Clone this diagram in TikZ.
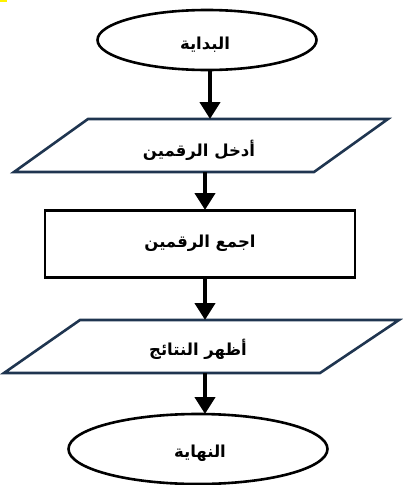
\documentclass[tikz,border=0pt]{standalone}
\usepackage{fontspec}
\usetikzlibrary{shapes.geometric,arrows.meta}
\TeXXeTstate=1
\newfontfamily\arabicfont[Script=Arabic]{DejaVu Sans}
\definecolor{navy}{HTML}{1F3550}
\definecolor{markyellow}{HTML}{FFF200}
\tikzset{
  x=1pt,y=-1pt,
  term/.style={ellipse,draw=black,line width=2.6pt,fill=white,minimum width=#1,minimum height=60pt,inner sep=0pt},
  io/.style={draw=navy,line width=2.6pt,fill=white},
  procbox/.style={rectangle,draw=black,line width=2.8pt,fill=white,minimum width=310pt,minimum height=67pt,inner sep=0pt},
  flow/.style={line width=4.5pt,-{Triangle[width=20pt,length=17pt]}},
  lbl/.style={font=\arabicfont\bfseries\fontsize{16.5}{18}\selectfont,inner sep=0pt}
}
\begin{document}
\begin{tikzpicture}
\useasboundingbox (0,0) rectangle (403,485);
\fill[markyellow] (0,0) rectangle (7,2);
% start
\node[term=219pt] (start) at (207,40) {};
\node[lbl] (startT) at (205,45) {\beginR البداية\endR};
% input parallelogram
\draw[io] (88,119) -- (388,119) -- (314,172) -- (14,172) -- cycle;
\coordinate (s1) at (210,69);
\coordinate (inTop) at (210,119);
\coordinate (inBot) at (205,172);
\node[lbl] (inT) at (199,150) {\beginR أدخل الرقمين\endR};
% process
\node[procbox] (proc) at (200,244) {};
\coordinate (procTop) at (205,210);
\coordinate (procBot) at (205,277);
\node[lbl] (procT) at (200,243) {\beginR اجمع الرقمين\endR};
% output parallelogram
\draw[io] (80,320) -- (399,320) -- (320,373) -- (4,373) -- cycle;
\coordinate (outTop) at (205,320);
\coordinate (outBot) at (205,373);
\node[lbl] (outT) at (198,349) {\beginR أظهر النتائج\endR};
% end
\node[term=259pt,minimum height=70pt] (stop) at (198,449) {};
\coordinate (stopTop) at (205,414);
\node[lbl] (stopT) at (200,453) {\beginR النهاية\endR};
% arrows
\draw[flow] (s1) -- (inTop);
\draw[flow] (inBot) -- (procTop);
\draw[flow] (procBot) -- (outTop);
\draw[flow] (outBot) -- (stopTop);
\end{tikzpicture}
\end{document}
